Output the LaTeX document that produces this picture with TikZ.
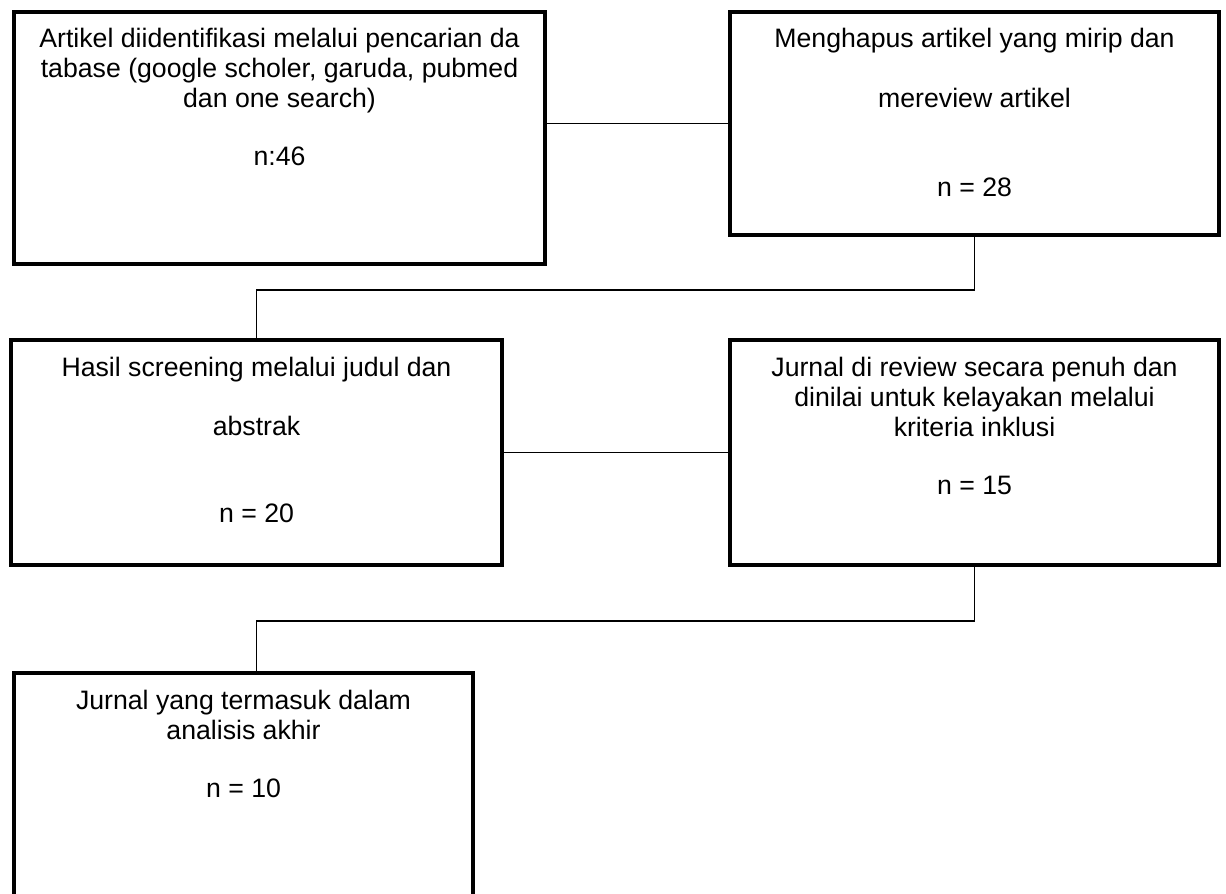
\documentclass[tikz,border=0pt]{standalone}
\usepackage{fontspec}
\setmainfont{Liberation Sans}
\begin{document}
\begin{tikzpicture}[x=0.75pt,y=-0.75pt,
box/.style={draw,line width=3pt,inner sep=0pt,anchor=north west},
txt/.style={anchor=base,align=center,inner sep=0pt,font=\fontsize{20}{22.5}\selectfont},
link/.style={line width=1pt}]
\useasboundingbox (0,0) rectangle (1226,893);
% boxes
\node[box,minimum width=398.25pt,minimum height=189pt] (b1) at (12,10) {};
\node[box,minimum width=366.75pt,minimum height=167.25pt] (b2) at (728,10) {};
\node[box,minimum width=368.25pt,minimum height=168.75pt] (b3) at (9,338) {};
\node[box,minimum width=366.75pt,minimum height=168.75pt] (b4) at (728,338) {};
\node[box,minimum width=344.25pt,minimum height=180pt] (b5) at (12,671) {};
% texts (anchored at the last line)
\node[txt] (t1) at ([yshift=-116.25pt]b1.north) {Artikel diidentifikasi melalui pencarian da\\tabase (google scholer, garuda, pubmed\\dan one search)\\[21pt]n:46};
\node[txt] (t2) at ([yshift=-139.5pt]b2.north) {Menghapus artikel yang mirip dan\\[22.5pt]mereview artikel\\[44.25pt]n = 28};
\node[txt] (t3) at ([yshift=-138pt]b3.north) {Hasil screening melalui judul dan\\[21.75pt]abstrak\\[42.75pt]n = 20};
\node[txt] (t4) at ([yshift=-117pt]b4.north) {Jurnal di review secara penuh dan\\dinilai untuk kelayakan melalui\\kriteria inklusi\\[21pt]n = 15};
\node[txt] (t5) at ([yshift=-94.5pt]b5.north) {Jurnal yang termasuk dalam\\analisis akhir\\[21pt]n = 10};
% connectors
\draw[link] (b2.west) -- (b2.west -| b1.east);
\draw[link] (b2.south) -- ++(0,53) -| (b3.north);
\draw[link] (b3.east) -- (b4.west);
\draw[link] (b4.south) -- ++(0,54) -| (b3.north |- b5.north);
\end{tikzpicture}
\end{document}
